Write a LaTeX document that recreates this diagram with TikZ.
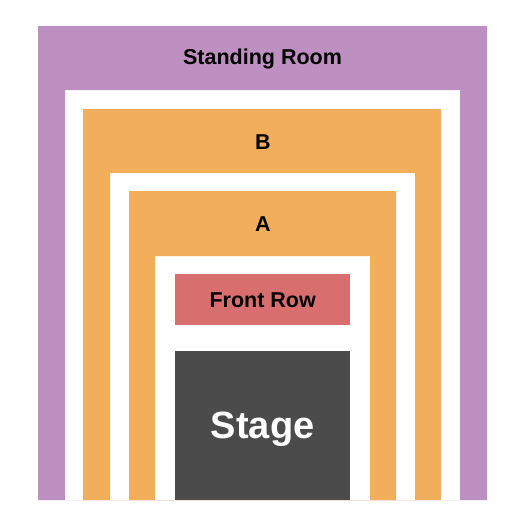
\documentclass[tikz,border=0pt]{standalone}
\usepackage{fontspec}
\setmainfont{Liberation Sans}
\definecolor{standcol}{HTML}{BE8FC1}
\definecolor{seatcol}{HTML}{F3AE5B}
\definecolor{frontcol}{HTML}{D86E6E}
\definecolor{stagecol}{HTML}{4B4B4B}
\tikzset{
  lbl/.style={font=\fontsize{21.5}{26}\selectfont\bfseries, text=black, text depth=0pt},
  block/.style={inner sep=0pt, minimum width=175pt, anchor=north west},
}
\begin{document}
\begin{tikzpicture}[x=1pt,y=-1pt]
\useasboundingbox (0,0) rectangle (525,525);
%-------------- Standing Room --------------------
\fill [standcol, even odd rule]
(38,26) rectangle (487,500)
(65,90) rectangle (460,500)
;
\node [lbl] (SR) at (262.5,57) {Standing Room};
%--------------- B ----------------------
\fill [seatcol, even odd rule]
(83,109) rectangle (441,500)
(110,173) rectangle (415,500)
;
\node [lbl] (B) at (263,142.5) {B};
%--------------- A ----------------------
\fill [seatcol, even odd rule]
(129,191) rectangle (396,500)
(155,256) rectangle (370,500)
;
\node [lbl] (A) at (263,224) {A};
%--------------- Front Row ----------------------
\node [block, fill=frontcol, minimum height=51pt, lbl] (FR) at (175,274) {Front Row};
%--------------- Stage ----------------------
\node [block, fill=stagecol, minimum height=149pt, lbl, text=white,
  font=\fontsize{38}{46}\selectfont\bfseries] (ST) at (175,351) {Stage};

\end{tikzpicture}
\end{document}
